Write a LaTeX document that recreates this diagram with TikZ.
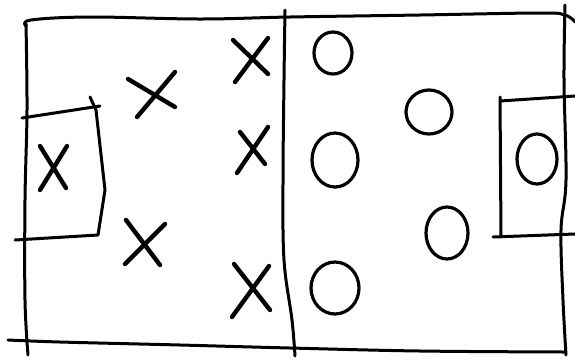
\documentclass[tikz,border=0pt]{standalone}
\begin{document}
\begin{tikzpicture}[x=1pt,y=-1pt,
  ink/.style={line width=3pt,line cap=round,line join=round,black},
  cross/.style={line width=4.4pt,line cap=round,black},
  ring/.style={line width=3.2pt,black}]
\useasboundingbox (0,0) rectangle (575,360);
\fill[white] (0,0) rectangle (575,360);
% outer field
\draw[ink] plot[smooth,tension=0.6] coordinates {(26,26) (31,20) (90,17) (200,19) (290,17) (420,15) (540,13) (565,15) (575,22)};
\draw[ink] plot[smooth,tension=0.6] coordinates {(26,24) (27,110) (25,200) (25,300) (28,355)};
\draw[ink] plot[smooth,tension=0.6] coordinates {(8,340) (60,342) (180,345) (290,348) (420,351) (565,352)};
\draw[ink] plot[smooth,tension=0.6] coordinates {(565,5) (564,80) (566,180) (561,230) (563,300) (566,355)};
% centre line
\draw[ink] plot[smooth,tension=0.6] coordinates {(285,10) (284,80) (283,180) (284,260) (292,320) (295,356)};
% left goal box
\draw[ink] (22,118) -- (100,106);
\draw[ink] (90,97) -- (96,110) -- (105,190) -- (98,235) -- (15,240);
% right goal box
\draw[ink] (500,97) -- (501,237);
\draw[ink] (500,101) -- (575,96);
\draw[ink] (493,237) -- (575,234);
% crosses
\draw[cross] (40,146) -- (66,188) (67,146) -- (40,190);
\draw[cross] (128,79) -- (175,107) (175,72) -- (137,117);
\draw[cross] (233,40) -- (268,74) (268,38) -- (235,82);
\draw[cross] (240,132) -- (265,164) (268,127) -- (237,173);
\draw[cross] (126,220) -- (160,265) (165,224) -- (125,264);
\draw[cross] (234,264) -- (270,310) (269,266) -- (232,317);
% circles
\draw[ring] (333,53) ellipse [x radius=19,y radius=21];
\draw[ring] (335,160) ellipse [x radius=23,y radius=27];
\draw[ring] (335,288) ellipse [x radius=24,y radius=26];
\draw[ring] (429,112) ellipse [x radius=23,y radius=22];
\draw[ring] (447,233) ellipse [x radius=21,y radius=26];
\draw[ring] (537,159) ellipse [x radius=20,y radius=25];
\end{tikzpicture}
\end{document}
